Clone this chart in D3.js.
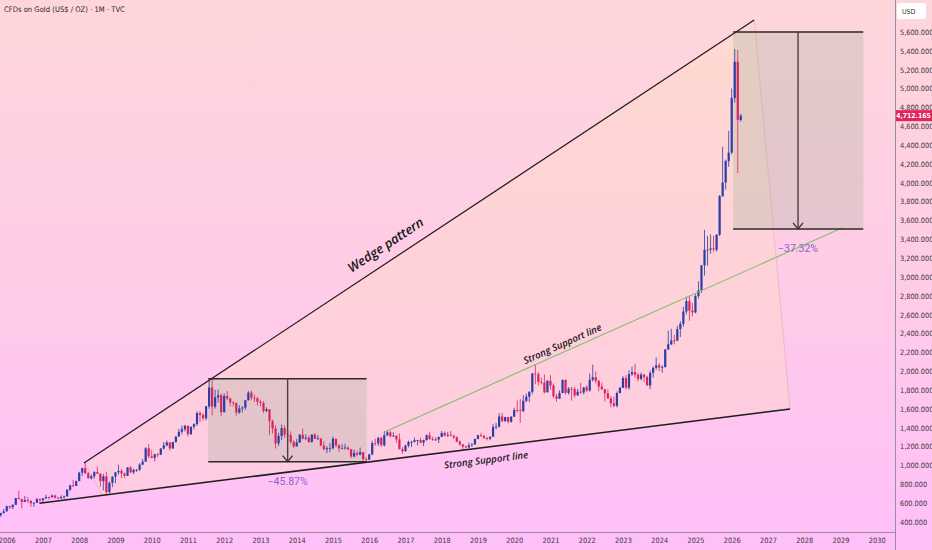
<!DOCTYPE html>
<html><head><meta charset="utf-8">
<script src="https://cdn.jsdelivr.net/npm/d3@7"></script>
<style>html,body{margin:0;padding:0;background:#ffc8f0;}svg{display:block}</style>
</head><body>
<svg id="c" width="932" height="550"></svg>
<script>
// ---------------- DATA ----------------
const firstMonth = {year: 2005, month: 10};   // first candle: Oct 2005 (monthly)
const firstOpen = 473;
const closes = [
 470,495,513,
 568,556,582,654,643,613,632,623,599,604,646,632,
 650,665,662,680,659,650,665,672,743,789,783,834,
 923,972,916,865,885,930,913,833,884,718,816,882,
 927,942,916,890,979,927,954,955,1008,1040,1182,1096,
 1081,1118,1113,1180,1213,1244,1181,1248,1307,1357,1385,1421,
 1332,1411,1439,1556,1536,1500,1628,1826,1624,1722,1746,1565,
 1737,1711,1669,1664,1561,1604,1614,1692,1773,1719,1713,1675,
 1663,1578,1596,1472,1393,1234,1313,1396,1327,1323,1250,1202,
 1244,1326,1284,1295,1250,1327,1282,1287,1210,1171,1182,1184,
 1283,1213,1183,1183,1190,1172,1095,1133,1115,1142,1065,1061,
 1118,1238,1233,1293,1215,1322,1351,1309,1316,1277,1173,1151,
 1211,1249,1249,1268,1269,1242,1269,1321,1280,1271,1275,1303,
 1345,1318,1325,1315,1298,1253,1224,1201,1192,1215,1222,1282,
 1321,1313,1292,1284,1305,1409,1413,1520,1472,1513,1464,1517,
 1589,1585,1577,1686,1730,1781,1975,1967,1886,1879,1776,1898,
 1847,1734,1708,1769,1907,1770,1814,1813,1743,1783,1774,1829,
 1796,1909,1937,1897,1837,1807,1766,1711,1660,1633,1768,1824,
 1928,1826,1969,1990,1962,1919,1965,1940,1849,1983,2036,2063,
 2039,2044,2230,2286,2327,2326,2447,2503,2634,2744,2643,2624,
 2798,2858,3123,3289,3289,3303,3290,3448,3858,4002,4230,4320,
 4900,5285,4666,4712
];
const highs = [
 485,497,538,
 572,574,589,655,730,643,677,664,633,611,649,646,
 655,690,670,693,690,668,683,680,745,794,845,838,
 933,975,1033,931,902,940,988,917,911,934,830,884,
 931,1007,963,926,982,992,964,962,1024,1070,1195,1227,
 1162,1125,1133,1183,1249,1265,1244,1251,1310,1388,1424,1431,
 1424,1412,1448,1575,1577,1556,1632,1913,1921,1803,1804,1764,
 1763,1791,1718,1679,1666,1640,1631,1692,1790,1796,1754,1725,
 1696,1683,1617,1599,1487,1424,1348,1434,1424,1362,1361,1268,
 1280,1332,1392,1331,1315,1332,1345,1323,1287,1255,1206,1238,
 1308,1285,1224,1225,1232,1205,1174,1170,1157,1191,1143,1088,
 1123,1263,1283,1304,1304,1362,1375,1367,1352,1318,1338,1193,
 1220,1264,1262,1296,1272,1296,1275,1330,1358,1306,1299,1306,
 1366,1361,1356,1365,1326,1309,1266,1223,1214,1243,1237,1284,
 1326,1346,1324,1303,1306,1439,1453,1555,1557,1517,1516,1525,
 1611,1689,1704,1747,1765,1789,1984,2075,1992,1933,1965,1906,
 1959,1871,1759,1798,1913,1916,1832,1834,1834,1814,1877,1831,
 1853,1974,2070,1998,1910,1879,1814,1808,1735,1730,1786,1833,
 1949,1959,2010,2048,2079,1984,1987,1949,1953,2009,2052,2146,
 2088,2065,2236,2431,2450,2387,2483,2531,2685,2790,2801,2726,
 2817,2956,3128,3500,3435,3452,3439,3454,3871,4381,4245,4550,
 5000,5420,5409,4730
];
const lows = [
 456,456,489,
 517,538,537,580,641,542,613,603,560,560,616,608,
 604,648,638,662,647,641,650,642,671,729,771,781,
 834,885,911,858,850,862,910,774,736,681,705,770,
 810,902,866,866,887,920,908,931,940,1003,1042,1075,
 1076,1045,1088,1114,1167,1202,1157,1175,1242,1316,1330,1360,
 1308,1324,1382,1418,1462,1478,1478,1603,1532,1604,1667,1523,
 1563,1693,1628,1627,1527,1547,1564,1591,1690,1694,1672,1635,
 1627,1555,1567,1321,1338,1180,1208,1270,1292,1251,1226,1187,
 1202,1240,1277,1268,1240,1240,1281,1273,1206,1161,1131,1142,
 1167,1191,1142,1171,1170,1162,1077,1085,1098,1107,1052,1046,
 1062,1107,1208,1206,1199,1200,1310,1302,1302,1241,1171,1122,
 1146,1191,1195,1244,1214,1236,1205,1264,1274,1260,1264,1237,
 1302,1307,1303,1310,1282,1246,1211,1160,1180,1182,1196,1221,
 1276,1303,1281,1266,1267,1311,1382,1400,1459,1460,1446,1454,
 1517,1563,1451,1567,1670,1671,1757,1863,1849,1860,1764,1776,
 1802,1717,1677,1720,1766,1750,1751,1688,1721,1746,1759,1753,
 1780,1782,1890,1872,1787,1805,1681,1709,1615,1617,1616,1765,
 1823,1805,1804,1949,1932,1893,1902,1885,1847,1810,1931,2016,
 2002,1984,2039,2228,2277,2286,2318,2364,2472,2604,2536,2583,
 2614,2772,2832,3015,3121,3248,3268,3268,3436,3850,3928,4170,
 4300,4850,4104,4650
];
const priceTicks = d3.range(400, 5601, 200);
const yearTicks = d3.range(2006, 2031);
const lastPrice = 4712.165;
const titleText = "CFDs on Gold (US$ / OZ) · 1M · TVC";

// drawings (in year / price units)
const wedgeUpper = [[2008.13, 1026], [2026.62, 5727]];
const wedgeLower = [[2006.90, 598], [2027.61, 1599]];
const wedgeArea  = [[2008.16, 1026], [2026.62, 5727], [2027.61, 1599], [2008.63, 687]];
const supportGreen = [[2016.44, 1358], [2029.04, 3520]];
const box1 = {x0: 2011.56, x1: 2015.93, xm: 2013.75, top: 1921, bottom: 1040, label: "−45.87%"};
const box2 = {x0: 2026.04, x1: 2029.63, xm: 2027.83, top: 5600, bottom: 3510, label: "−37.32%"};

// ---------------- CHART ----------------
const W = 932, H = 550, plotR = 895, plotB = 532;
const svg = d3.select("#c");
const x = d3.scaleLinear().domain([2006, 2030]).range([6.7, 876.7]);
const y = d3.scaleLinear().domain([400, 5600]).range([522, 32]);
const narrow = "'Liberation Sans Narrow','DejaVu Sans Condensed',sans-serif";

const defs = svg.append("defs");
const g = defs.append("linearGradient").attr("id","bg").attr("x1",0).attr("y1",0).attr("x2",0).attr("y2",1);
g.append("stop").attr("offset","0%").attr("stop-color","#fed6da");
g.append("stop").attr("offset","55%").attr("stop-color","#ffcbe8");
g.append("stop").attr("offset","100%").attr("stop-color","#ffbff9");
defs.append("clipPath").attr("id","plot").append("rect").attr("x",0).attr("y",0).attr("width",plotR).attr("height",plotB);

svg.append("rect").attr("width",W).attr("height",H).attr("fill","url(#bg)");

const plot = svg.append("g").attr("clip-path","url(#plot)");
const P = d => [x(d[0]), y(d[1])];

// wedge fill
plot.append("polygon").attr("points", wedgeArea.map(d => P(d).join(",")).join(" "))
  .attr("fill","rgba(255,226,175,0.25)").attr("stroke","rgba(190,150,160,0.45)").attr("stroke-width",0.8);

// boxes
[box1, box2].forEach(b => {
  plot.append("rect").attr("x", x(b.x0)).attr("y", y(b.top))
    .attr("width", x(b.x1)-x(b.x0)).attr("height", y(b.bottom)-y(b.top))
    .attr("fill","rgba(165,180,155,0.30)");
});

// candles
const candles = closes.map((c, i) => {
  const m = (firstMonth.year - 2006) * 12 + (firstMonth.month - 1) + i;
  const o = i === 0 ? firstOpen : closes[i-1];
  return {t: 2006 + m/12, o, c, h: Math.max(highs[i], o, c), l: Math.min(lows[i], o, c)};
});
const up = "#2a3ea6", down = "#d8245e";
const cg = plot.append("g");
cg.selectAll("line.w").data(candles).join("line")
  .attr("x1", d => x(d.t)).attr("x2", d => x(d.t))
  .attr("y1", d => y(d.h)).attr("y2", d => y(d.l))
  .attr("stroke", d => d.c >= d.o ? up : down).attr("stroke-width", 0.8);
cg.selectAll("rect.b").data(candles).join("rect")
  .attr("x", d => x(d.t) - 1.1).attr("width", 2.2)
  .attr("y", d => y(Math.max(d.o, d.c)))
  .attr("height", d => Math.max(0.8, Math.abs(y(d.o) - y(d.c))))
  .attr("fill", d => d.c >= d.o ? up : down);

// wedge lines
const line = (pts, color, w) => plot.append("line")
  .attr("x1", x(pts[0][0])).attr("y1", y(pts[0][1]))
  .attr("x2", x(pts[1][0])).attr("y2", y(pts[1][1]))
  .attr("stroke", color).attr("stroke-width", w);
line(wedgeUpper, "#1e1e1e", 1.2);
line(wedgeLower, "#1e1e1e", 1.5);
line(supportGreen, "#7fbf6a", 1.1);

// boxes lines + arrows + labels
[box1, box2].forEach(b => {
  [b.top, b.bottom].forEach(v => plot.append("line")
    .attr("x1", x(b.x0)).attr("x2", x(b.x1)).attr("y1", y(v)).attr("y2", y(v))
    .attr("stroke","#2a2a2a").attr("stroke-width",1.4));
  plot.append("line").attr("x1", x(b.xm)).attr("x2", x(b.xm))
    .attr("y1", y(b.top)).attr("y2", y(b.bottom))
    .attr("stroke","#4a4040").attr("stroke-width",1.4);
  plot.append("path")
    .attr("d", `M${x(b.xm)-5},${y(b.bottom)-6} L${x(b.xm)},${y(b.bottom)} L${x(b.xm)+5},${y(b.bottom)-6}`)
    .attr("fill","none").attr("stroke","#3a3030").attr("stroke-width",1.3);
  plot.append("text").attr("x", x(b.xm)).attr("y", y(b.bottom) + 23)
    .attr("text-anchor","middle").attr("font-family","Roboto, sans-serif").attr("font-size",10.5)
    .attr("fill","#8a63cc").text(b.label);
});

// text along lines
function alongText(pts, year, offset, txt, size, weight) {
  const [x1, y1] = P(pts[0]), [x2, y2] = P(pts[1]);
  const ang = Math.atan2(y2 - y1, x2 - x1) * 180 / Math.PI;
  const px = x(year), py = y1 + (px - x1) * (y2 - y1) / (x2 - x1);
  plot.append("text").attr("transform", `translate(${px},${py}) rotate(${ang})`)
    .attr("x", 0).attr("y", offset).attr("text-anchor","middle")
    .attr("font-family","'Open Sans', sans-serif").attr("font-style","italic")
    .attr("font-weight", weight).attr("font-size", size).attr("fill","#161616").text(txt);
}
alongText(wedgeUpper, 2016.69, -11, "Wedge pattern", 13, 600);
alongText(wedgeLower, 2019.18, 16, "Strong Support line", 9.6, 600);
alongText(supportGreen, 2021.42, -4.6, "Strong Support line", 9.6, 600);

// axes
svg.append("line").attr("x1", plotR+0.5).attr("x2", plotR+0.5).attr("y1",0).attr("y2",H)
  .attr("stroke","#978ea6").attr("stroke-width",1);
svg.append("line").attr("x1", 0).attr("x2", plotR).attr("y1",plotB+0.5).attr("y2",plotB+0.5)
  .attr("stroke","#978ea6").attr("stroke-width",1);

const fmt = d3.format(",.3f");
const ya = svg.append("g").attr("transform", `translate(${plotR+5},0)`)
  .call(d3.axisRight(y).tickValues(priceTicks).tickSize(0).tickPadding(0).tickFormat(fmt));
ya.select(".domain").remove();
ya.selectAll("text").attr("font-family", narrow).attr("font-size", 7.3).attr("fill","#3a3340");

const xa = svg.append("g").attr("transform", `translate(0,${plotB})`)
  .call(d3.axisBottom(x).tickValues(yearTicks).tickSize(0).tickPadding(6).tickFormat(d3.format("d")));
xa.select(".domain").remove();
xa.selectAll("text").attr("font-family", narrow).attr("font-size", 7.3).attr("fill","#3a3340");

// USD box
svg.append("rect").attr("x", 897).attr("y", 3).attr("width", 29).attr("height", 16).attr("rx", 2)
  .attr("fill", "#ffffff");
svg.append("text").attr("x", 902).attr("y", 14).attr("font-family", narrow).attr("font-size", 7)
  .attr("fill","#333").text("USD");

// last price label
svg.append("rect").attr("x", 896).attr("y", y(lastPrice) - 5.5).attr("width", 36).attr("height", 11)
  .attr("fill", "#e0245d");
svg.append("text").attr("x", 913.5).attr("y", y(lastPrice) + 2.5).attr("text-anchor","middle")
  .attr("font-family", narrow).attr("font-size", 6.8).attr("font-weight","bold")
  .attr("fill","#fff").text(fmt(lastPrice));

// title
svg.append("text").attr("x", 4).attr("y", 12).attr("font-family", narrow).attr("font-size", 7.6)
  .attr("fill","#2a2530").text(titleText);
</script>
</body></html>
